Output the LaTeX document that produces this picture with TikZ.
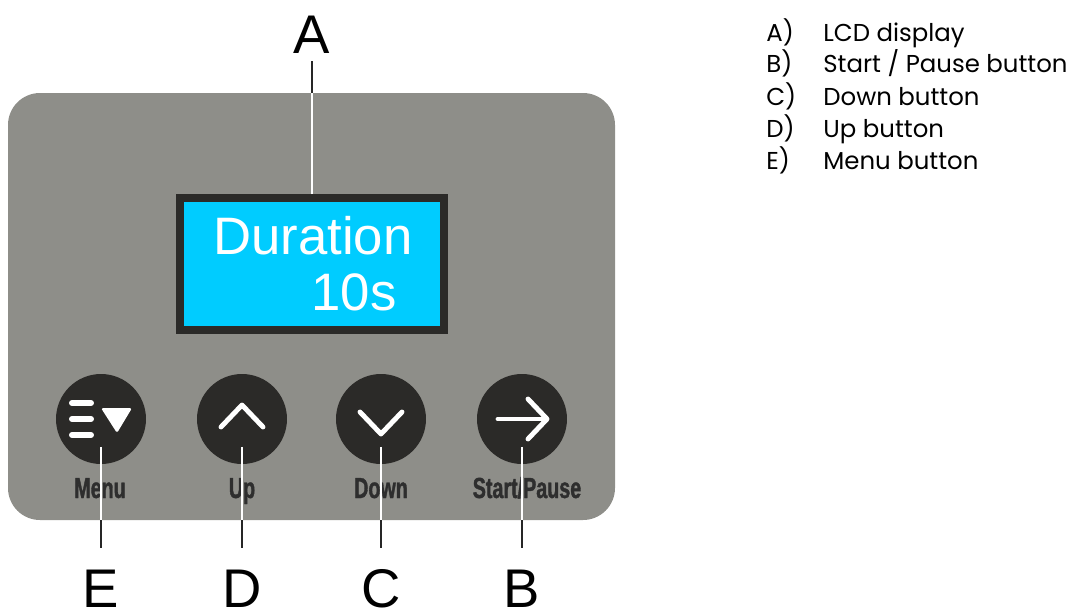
\documentclass[tikz,border=0pt]{standalone}
\usepackage{fontspec}
\setmainfont{Liberation Sans}
\newfontfamily\legendfont{Poppins}
\newfontfamily\keyfont[FakeStretch=0.68,BoldFeatures={FakeBold=1.2}]{Liberation Sans}
\definecolor{panelgray}{HTML}{8E8E89}
\definecolor{keyblack}{HTML}{2B2A28}
\definecolor{lcdcyan}{HTML}{00CCFF}
\definecolor{labelgray}{HTML}{2E2E2E}
\tikzset{
  key/.style={circle,fill=keyblack,minimum size=1.8cm,inner sep=0pt},
  icon/.style={white,line width=2.8pt,line cap=round,line join=round},
  leadw/.style={white,line width=1.6pt},
  leadb/.style={black!85,line width=1.6pt},
  letter/.style={font=\fontsize{31}{36}\selectfont,anchor=base,inner sep=0pt},
  keylabel/.style={font=\keyfont\bfseries\fontsize{16.5}{19}\selectfont,text=labelgray,anchor=base,inner sep=0pt},
  legend/.style={font=\legendfont\fontsize{13.9}{16}\selectfont,anchor=base west,inner sep=0pt}
}
\begin{document}
\begin{tikzpicture}[x=0.02cm,y=-0.02cm]
    \useasboundingbox (0,0) rectangle (1080,616);
    % control panel
    \fill[panelgray,rounded corners=0.64cm] (8,93) rectangle (615,520);
    % LCD display
    \node[draw=keyblack,line width=4.5pt,fill=lcdcyan,minimum width=5.28cm,minimum height=2.64cm,inner sep=0pt] (lcd) at (312,264) {};
    \node[white,font=\fontsize{30}{34}\selectfont,anchor=base east,inner sep=0pt] (line1) at (413,254) {Duration};
    \node[white,font=\fontsize{30}{34}\selectfont,anchor=base east,inner sep=0pt] (line2) at (397,310) {10s};
    % buttons
    \node[key] (menu) at (101,419) {};
    \node[key] (up) at (242,419) {};
    \node[key] (down) at (381,419) {};
    \node[key] (start) at (522,419) {};
    % button symbols
    \draw[icon,line width=3.4pt] (72,403) -- (91,403);
    \draw[icon,line width=3.4pt] (72,419) -- (91,419);
    \draw[icon,line width=3.4pt] (72,435) -- (91,435);
    \fill[white,rounded corners=1pt] (101,408) -- (132,408) -- (117,433) -- cycle;
    \draw[icon] (221,427) -- (242,405) -- (263,427);
    \draw[icon] (360,412) -- (381,434) -- (402,412);
    \draw[icon] (498,419) -- (546,419);
    \draw[icon] (528,399) -- (547,419) -- (528,439);
    % button labels
    \node[keylabel] (lmenu) at (100,498) {Menu};
    \node[keylabel] (lup) at (242,498) {Up};
    \node[keylabel] (ldown) at (381,498) {Down};
    \node[keylabel] (lstart) at (527,498) {Start/Pause};
    % callout letters
    \node[letter] (A) at (312,53) {A};
    \node[letter] (E) at (101,607) {E};
    \node[letter] (D) at (242,607) {D};
    \node[letter] (C) at (381,607) {C};
    \node[letter] (B) at (522,607) {B};
    % leader lines
    \coordinate (pa) at (312,93);
    \coordinate (pe) at (101,520);
    \coordinate (pd) at (242,520);
    \coordinate (pc) at (381,520);
    \coordinate (pb) at (522,520);
    \draw[leadw] (lcd.north) -- (pa);
    \draw[leadb,shorten >=4.5pt] (pa) -- (A.south);
    \draw[leadw] ([yshift=-0.56cm]menu.center) -- (pe);
    \draw[leadw] ([yshift=-0.56cm]up.center) -- (pd);
    \draw[leadw] ([yshift=-0.56cm]down.center) -- (pc);
    \draw[leadw] ([yshift=-0.56cm]start.center) -- (pb);
    \draw[leadb,shorten >=12pt] (pe) -- (E.north);
    \draw[leadb,shorten >=12pt] (pd) -- (D.north);
    \draw[leadb,shorten >=12pt] (pc) -- (C.north);
    \draw[leadb,shorten >=12pt] (pb) -- (B.north);
    % legend
    \node[legend] (kA) at (766,41) {A)};
    \node[legend] (tA) at (823,41) {LCD display};
    \node[legend] (kB) at (766,72) {B)};
    \node[legend] (tB) at (823,72) {Start / Pause button};
    \node[legend] (kC) at (766,105) {C)};
    \node[legend] (tC) at (823,105) {Down button};
    \node[legend] (kD) at (766,137) {D)};
    \node[legend] (tD) at (823,137) {Up button};
    \node[legend] (kE) at (766,169) {E)};
    \node[legend] (tE) at (823,169) {Menu button};
\end{tikzpicture}
\end{document}
